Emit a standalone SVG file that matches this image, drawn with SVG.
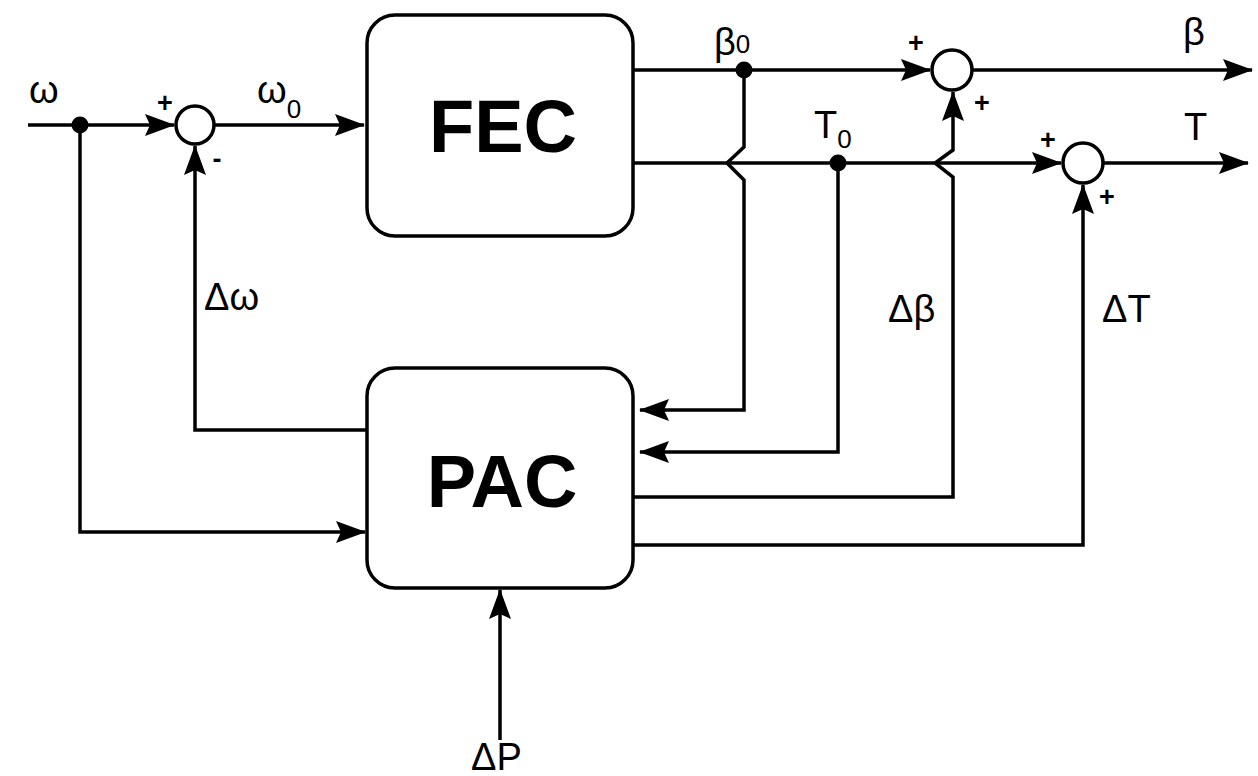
<svg xmlns="http://www.w3.org/2000/svg" width="1258" height="776" viewBox="0 0 1258 776">
<style>
.box{fill:#fff;stroke:#000;stroke-width:3.5}
.ln{fill:none;stroke:#000;stroke-width:3.5;stroke-linejoin:miter}
.arr{marker-end:url(#ah)}
.sum{fill:#fff;stroke:#000;stroke-width:3.5}
.dot{fill:#000}
.big{font-family:"Liberation Sans",Arial,sans-serif;font-weight:bold;font-size:74px;text-anchor:middle}
.lbl{font-family:"Liberation Sans",Arial,sans-serif;font-size:38px}
.sub{font-family:"Liberation Sans",Arial,sans-serif;font-size:26px}
.sgn{font-family:"Liberation Sans",Arial,sans-serif;font-size:27px;font-weight:bold;text-anchor:middle}
</style>
<defs>
<marker id="ah" viewBox="0 0 30 22" refX="29" refY="11" markerWidth="30" markerHeight="22" markerUnits="userSpaceOnUse" orient="auto">
<path d="M0,0 L30,11 L0,22 L5,11 Z" fill="#000"/>
</marker>
</defs>
<rect width="1258" height="776" fill="#fff"/>
<g id="connectors">
<path class="ln arr" d="M28,125 H174"/>
<path class="ln arr" d="M80,125 V532 H365"/>
<path class="ln arr" d="M214,125 H364"/>
<path class="ln arr" d="M367,430 H195 V146"/>
<path class="ln arr" d="M633,70 H930"/>
<path class="ln arr" d="M744,70 V147 L727,163 L744,180 V410 H640"/>
<path class="ln arr" d="M633,163 H1061"/>
<path class="ln arr" d="M838,163 V452 H640"/>
<path class="ln arr" d="M972,70 H1252"/>
<path class="ln arr" d="M633,497 H953 V177 L935,163 L953,150 V92"/>
<path class="ln arr" d="M1103,163 H1248"/>
<path class="ln arr" d="M633,545 H1083 V185"/>
<path class="ln arr" d="M500,740 V590"/>
</g>
<g id="FEC">
<rect class="box" x="367" y="15" width="266" height="221" rx="28"/>
<text class="big" x="503" y="152">FEC</text>
</g>
<g id="PAC">
<rect class="box" x="367" y="368" width="266" height="220" rx="28"/>
<text class="big" x="502" y="507">PAC</text>
</g>
<g id="sum1">
<circle class="sum" cx="195" cy="125" r="19"/>
<text class="sgn" x="165" y="112">+</text>
<text class="sgn" x="217" y="168">-</text>
</g>
<g id="sum2">
<circle class="sum" cx="952" cy="70" r="20"/>
<text class="sgn" x="916" y="52">+</text>
<text class="sgn" x="982" y="112">+</text>
</g>
<g id="sum3">
<circle class="sum" cx="1083" cy="163" r="20"/>
<text class="sgn" x="1048" y="149">+</text>
<text class="sgn" x="1107" y="206">+</text>
</g>
<g id="dots">
<circle class="dot" cx="80" cy="125" r="8.5"/>
<circle class="dot" cx="744" cy="70" r="8.5"/>
<circle class="dot" cx="838" cy="163" r="8.5"/>
</g>
<g id="labels">
<text class="lbl" x="29" y="103">ω</text>
<text class="lbl" x="257" y="103">ω<tspan class="sub" dy="15">0</tspan></text>
<text class="lbl" x="714" y="55">β<tspan class="sub" dy="-2">0</tspan></text>
<text class="lbl" x="814" y="138">T<tspan class="sub" dy="10">0</tspan></text>
<text class="lbl" x="1183" y="45">β</text>
<text class="lbl" x="1184" y="140">T</text>
<text class="lbl" x="204" y="310">Δω</text>
<text class="lbl" x="888" y="322">Δβ</text>
<text class="lbl" x="1102" y="322">ΔT</text>
<text class="lbl" x="471" y="770">ΔP</text>
</g>
</svg>
